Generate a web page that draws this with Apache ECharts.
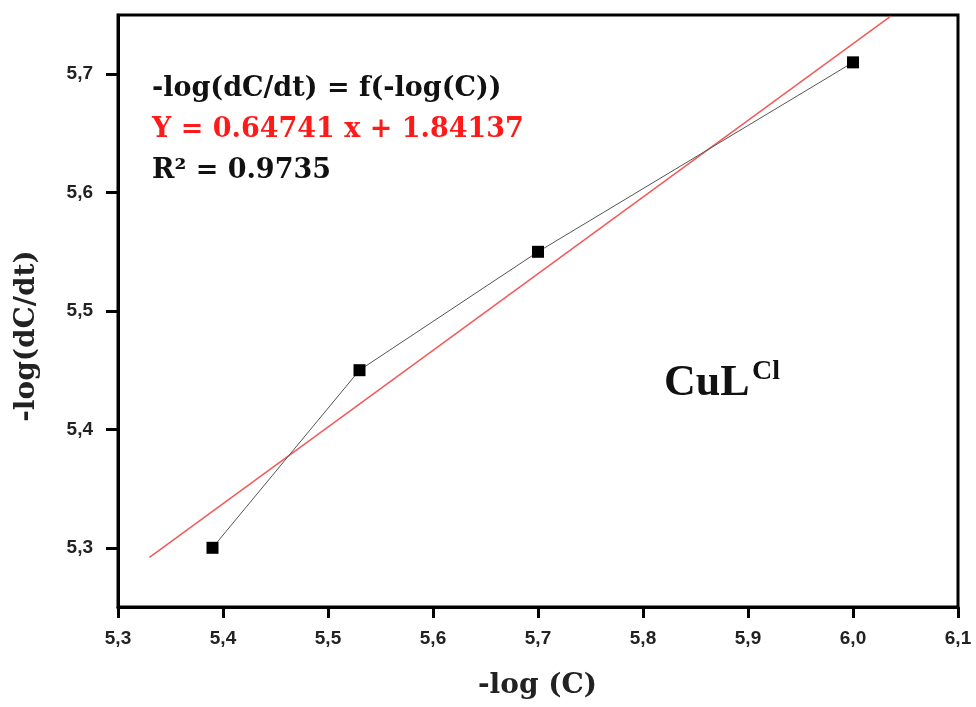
<!DOCTYPE html>
<html>
<head>
<meta charset="utf-8">
<script src="https://cdn.jsdelivr.net/npm/echarts@6/dist/echarts.min.js"></script>
<style>html,body{margin:0;padding:0;background:#fff}#c{width:976px;height:707px}</style>
</head>
<body>
<div id="c"></div>
<script>
// measured points
var pointsX = [5.39, 5.53, 5.70, 6.00];
var pointsY = [5.30, 5.45, 5.55, 5.71];
// linear fit line endpoints (as drawn)
var fitX = [5.33, 6.036];
var fitY = [5.292, 5.749];
// tick labels
var yTicks = [5.3, 5.4, 5.5, 5.6, 5.7];
var xTicks = [5.3, 5.4, 5.5, 5.6, 5.7, 5.8, 5.9, 6.0, 6.1];
var xAxisTitle = '-log (C)';
var yAxisTitle = '-log(dC/dt)';
var annoLines = ['-log(dC/dt) = f(-log(C))', 'Y = 0.64741 x + 1.84137', 'R\u00b2 = 0.9735'];

function fmt(v){ return (Math.round(v*10)/10).toFixed(1).replace('.', ','); }

var chart = echarts.init(document.getElementById('c'), null, {renderer:'canvas'});
var serif = '"DejaVu Serif", serif';
var serif2 = '"Liberation Serif", serif';
var sans = '"Liberation Sans", Arial, sans-serif';
chart.setOption({
  animation:false,
  backgroundColor:'#fff',
  grid:{left:118, right:18, top:15, bottom:100, show:true, borderColor:'#000', borderWidth:3, backgroundColor:'transparent'},
  xAxis:{
    type:'value', min:5.3, max:6.1, interval:0.1,
    axisLine:{show:true, onZero:false, lineStyle:{color:'#000', width:3}},
    axisTick:{show:true, inside:false, length:11, lineStyle:{color:'#000', width:3}},
    axisLabel:{color:'#222', fontFamily:sans, fontWeight:'bold', fontSize:19, margin:22, formatter:fmt},
    splitLine:{show:false}
  },
  yAxis:{
    type:'value', min:5.25, max:5.75, interval:0.05,
    axisLine:{show:true, onZero:false, lineStyle:{color:'#000', width:3}},
    axisTick:{show:true, inside:false, length:12, customValues:yTicks, lineStyle:{color:'#000', width:3}},
    axisLabel:{color:'#222', fontFamily:sans, fontWeight:'bold', fontSize:19, margin:25, customValues:yTicks, formatter:fmt},
    splitLine:{show:false}
  },
  series:[
    {
      type:'line', data:fitX.map(function(x,i){return [x, fitY[i]];}),
      symbol:'none', lineStyle:{color:'#f25a5a', width:1.5}, z:2
    },
    {
      type:'line', data:pointsX.map(function(x,i){return [x, pointsY[i]];}),
      symbol:'rect', symbolSize:12, itemStyle:{color:'#000'},
      lineStyle:{color:'#555', width:1}, z:3
    }
  ],
  graphic:[
    {type:'text', left:152, top:75, style:{text:annoLines[0], fill:'#111', font:'bold 27px '+serif}},
    {type:'text', left:152, top:116, style:{text:annoLines[1], fill:'#ff1a1a', font:'bold 27px '+serif}},
    {type:'text', left:152, top:157, style:{text:annoLines[2], fill:'#111', font:'bold 27px '+serif}},
    {type:'text', left:664, top:362, style:{text:'CuL', fill:'#111', font:'bold 44px '+serif2}},
    {type:'text', left:752, top:358, style:{text:'Cl', fill:'#111', font:'bold 28px '+serif2}},
    {type:'text', left:478, top:672, style:{text:xAxisTitle, fill:'#222', font:'bold 28px '+serif}},
    {type:'text', x:27, y:336, rotation:Math.PI/2, style:{text:yAxisTitle, fill:'#222', font:'bold 28px '+serif, align:'center', verticalAlign:'middle'}}
  ]
});
</script>
</body>
</html>
